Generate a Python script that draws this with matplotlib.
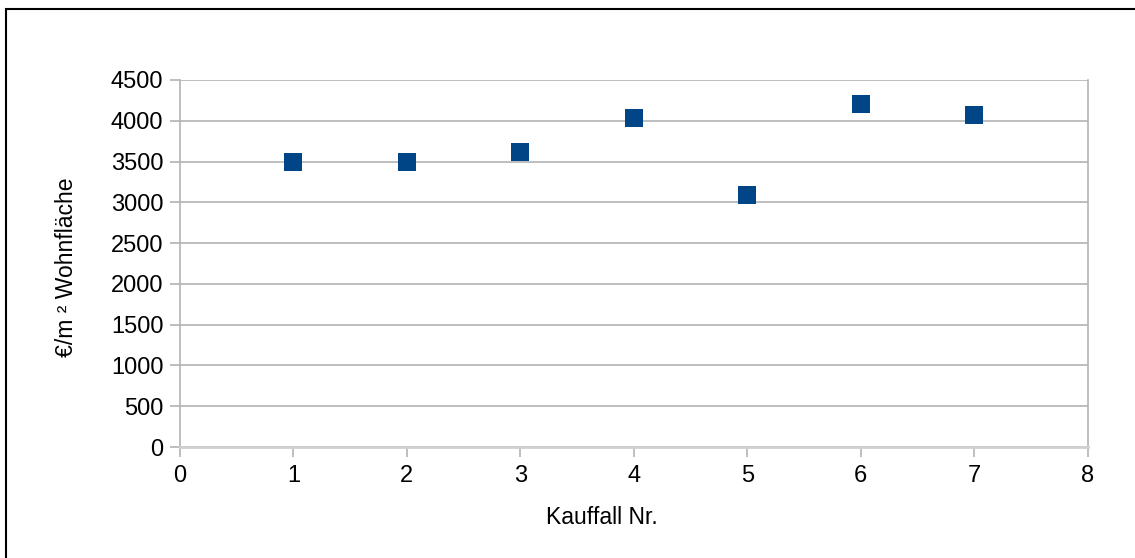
import matplotlib
matplotlib.use("Agg")
import matplotlib.pyplot as plt
from matplotlib.patches import Rectangle

plt.rcParams['font.family'] = ['Liberation Sans', 'DejaVu Sans']

kauffall = [1, 2, 3, 4, 5, 6, 7]
preis_qm = [3490, 3495, 3620, 4040, 3090, 4210, 4075]
x_ticks = [0, 1, 2, 3, 4, 5, 6, 7, 8]
y_ticks = [0, 500, 1000, 1500, 2000, 2500, 3000, 3500, 4000, 4500]

W, H = 1135, 558
fig = plt.figure(figsize=(W / 100, H / 100), dpi=100)
ax = fig.add_axes([180 / W, 1 - 447 / H, (1087.5 - 180) / W, (447 - 80) / H])

ax.scatter(kauffall, preis_qm, marker='s', s=150, color='#004586', zorder=3, linewidths=0)

ax.set_xlim(0, 8)
ax.set_ylim(0, 4500)
ax.set_xticks(x_ticks)
ax.set_yticks(y_ticks)
ax.grid(axis='y', color='#b3b3b3', linewidth=1.2)
ax.set_axisbelow(True)

for s in ['left', 'right']:
    ax.spines[s].set_color('#b3b3b3')
    ax.spines[s].set_linewidth(1.2)
ax.spines['bottom'].set_color('#d0d0d0')
ax.spines['bottom'].set_linewidth(2)
ax.spines['top'].set_visible(False)

ax.tick_params(axis='both', colors='#b3b3b3', labelcolor='black', labelsize=17,
               length=7, width=1.2)
ax.tick_params(axis='y', pad=5)
ax.tick_params(axis='x', pad=6)

ax.set_xlabel('Kauffall Nr.', fontsize=16.5)
ax.set_ylabel('€/m ² Wohnfläche', fontsize=16.5)
ax.xaxis.set_label_coords(0.4645, -0.161)
ax.yaxis.set_label_coords(-0.1124, 0.4905)

fig.patches.append(Rectangle((6 / W, -0.1), 1.2, 1 - 9 / H + 0.1, transform=fig.transFigure,
                             fill=False, edgecolor='black', linewidth=1.5))

fig.savefig('out.png', dpi=100, facecolor='white')
